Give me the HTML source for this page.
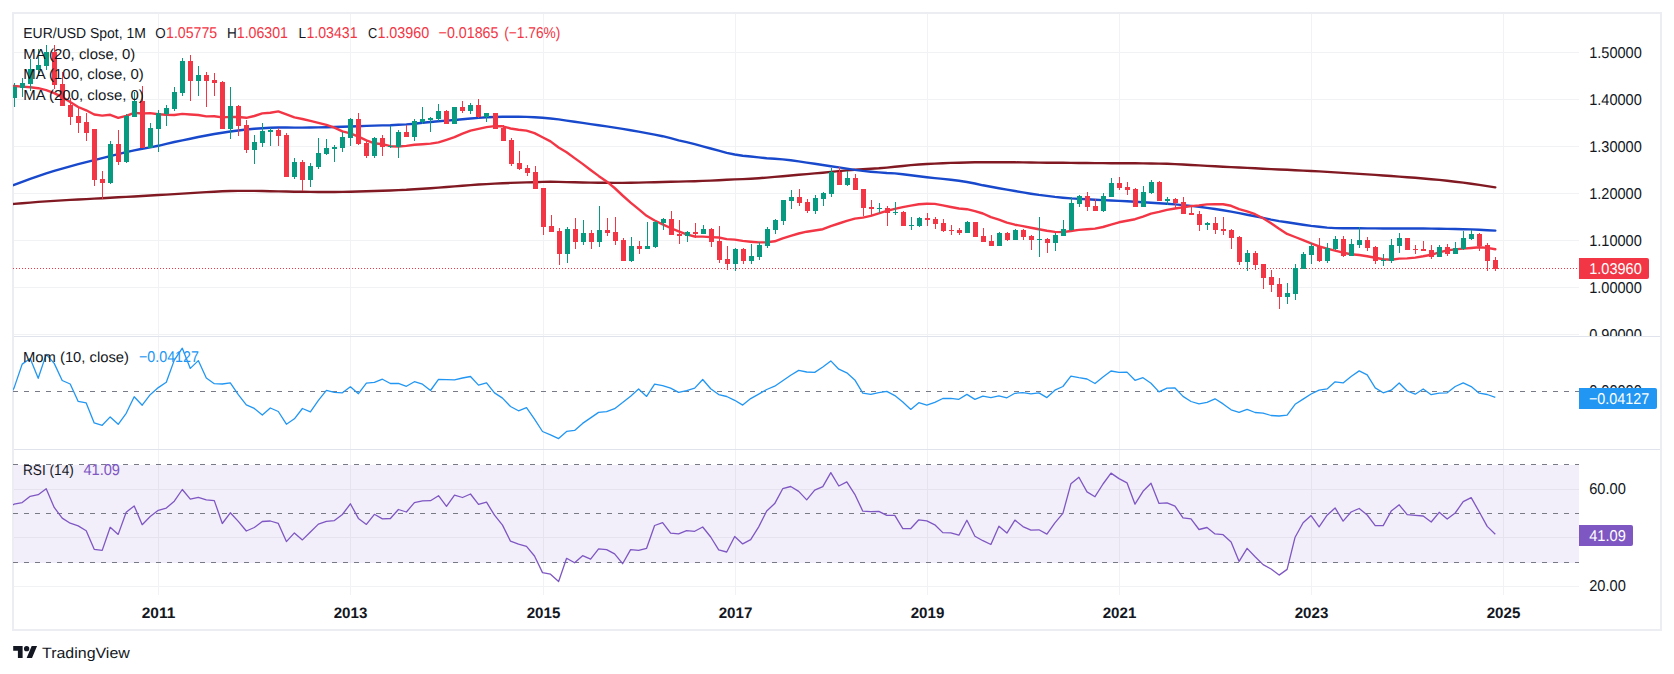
<!DOCTYPE html><html><head><meta charset="utf-8"><title>EUR/USD Spot 1M</title><style>html,body{margin:0;padding:0;background:#fff}body{width:1674px;height:674px;position:relative;overflow:hidden}</style></head><body><svg width="1674" height="674" viewBox="0 0 1674 674" text-rendering="geometricPrecision" style="position:absolute;left:0;top:0;font-family:'Liberation Sans', 'DejaVu Sans', sans-serif">
<defs><clipPath id="cp1"><rect x="13" y="13" width="1566" height="323"/></clipPath><clipPath id="cp2"><rect x="13" y="337" width="1566" height="112"/></clipPath><clipPath id="cp3"><rect x="13" y="450" width="1566" height="145"/></clipPath><clipPath id="cpa1"><rect x="1579" y="13" width="82" height="323"/></clipPath></defs>
<rect x="0" y="0" width="1674" height="674" fill="#fff"/>
<rect x="13" y="465" width="1566" height="98" fill="#f2eefa" shape-rendering="crispEdges"/>
<g fill="#f1f2f4" shape-rendering="crispEdges"><rect x="158" y="13" width="1" height="582"/><rect x="350" y="13" width="1" height="582"/><rect x="543" y="13" width="1" height="582"/><rect x="735" y="13" width="1" height="582"/><rect x="927" y="13" width="1" height="582"/><rect x="1119" y="13" width="1" height="582"/><rect x="1311" y="13" width="1" height="582"/><rect x="1503" y="13" width="1" height="582"/><rect x="13" y="52" width="1566" height="1"/><rect x="13" y="99" width="1566" height="1"/><rect x="13" y="146" width="1566" height="1"/><rect x="13" y="193" width="1566" height="1"/><rect x="13" y="240" width="1566" height="1"/><rect x="13" y="287" width="1566" height="1"/><rect x="13" y="334" width="1566" height="1"/><rect x="13" y="489" width="1566" height="1"/><rect x="13" y="537" width="1566" height="1"/><rect x="13" y="586" width="1566" height="1"/></g>
<g fill="#e6e3ef" shape-rendering="crispEdges"><rect x="13" y="489" width="1566" height="1"/><rect x="13" y="537" width="1566" height="1"/><rect x="158" y="465" width="1" height="98"/><rect x="350" y="465" width="1" height="98"/><rect x="543" y="465" width="1" height="98"/><rect x="735" y="465" width="1" height="98"/><rect x="927" y="465" width="1" height="98"/><rect x="1119" y="465" width="1" height="98"/><rect x="1311" y="465" width="1" height="98"/><rect x="1503" y="465" width="1" height="98"/></g>
<g fill="#e0e3eb" shape-rendering="crispEdges"><rect x="13" y="336" width="1648" height="1"/><rect x="13" y="449" width="1648" height="1"/></g>
<rect x="13" y="13" width="1648" height="617" fill="none" stroke="#ebedf3" stroke-width="2"/>
<line x1="13" y1="268.5" x2="1579" y2="268.5" stroke="#f23645" stroke-width="1" stroke-dasharray="1 2" shape-rendering="crispEdges"/>
<g clip-path="url(#cp1)" fill="none" stroke-width="2.4" stroke-linejoin="round" stroke-linecap="round">
<path d="M6.1,204.5 L14.1,203.9 L22.2,203.2 L30.2,202.6 L38.2,201.9 L46.2,201.4 L54.2,200.9 L62.2,200.4 L70.2,199.9 L78.2,199.5 L86.2,199.1 L94.2,198.6 L102.2,198.2 L110.2,197.8 L118.2,197.3 L126.2,196.9 L134.2,196.5 L142.2,196.0 L150.2,195.5 L158.3,195.0 L166.3,194.6 L174.3,194.1 L182.3,193.6 L190.3,193.1 L198.3,192.6 L206.3,192.1 L214.3,191.7 L222.3,191.3 L230.3,191.0 L238.3,190.9 L246.3,190.9 L254.3,190.9 L262.3,191.0 L270.3,191.2 L278.3,191.4 L286.4,191.5 L294.4,191.7 L302.4,191.8 L310.4,191.9 L318.4,192.0 L326.4,192.0 L334.4,192.0 L342.4,191.9 L350.4,191.7 L358.4,191.5 L366.4,191.3 L374.4,191.0 L382.4,190.8 L390.4,190.5 L398.4,190.1 L406.4,189.8 L414.4,189.3 L422.5,188.7 L430.5,188.2 L438.5,187.6 L446.5,187.0 L454.5,186.4 L462.5,185.7 L470.5,185.1 L478.5,184.5 L486.5,184.1 L494.5,183.6 L502.5,183.3 L510.5,182.9 L518.5,182.6 L526.5,182.4 L534.5,182.2 L542.5,181.9 L550.5,181.8 L558.6,181.9 L566.6,182.1 L574.6,182.3 L582.6,182.5 L590.6,182.6 L598.6,182.7 L606.6,182.8 L614.6,182.9 L622.6,182.9 L630.6,182.8 L638.6,182.6 L646.6,182.4 L654.6,182.2 L662.6,182.0 L670.6,181.8 L678.6,181.6 L686.6,181.4 L694.7,181.2 L702.7,180.9 L710.7,180.6 L718.7,180.2 L726.7,179.8 L734.7,179.4 L742.7,179.1 L750.7,178.7 L758.7,178.2 L766.7,177.6 L774.7,176.9 L782.7,176.2 L790.7,175.5 L798.7,174.8 L806.7,174.1 L814.7,173.4 L822.8,172.7 L830.8,171.9 L838.8,171.1 L846.8,170.4 L854.8,169.8 L862.8,169.2 L870.8,168.8 L878.8,168.3 L886.8,167.6 L894.8,166.8 L902.8,166.0 L910.8,165.1 L918.8,164.5 L926.8,164.0 L934.8,163.6 L942.8,163.3 L950.8,162.9 L958.9,162.7 L966.9,162.5 L974.9,162.3 L982.9,162.2 L990.9,162.2 L998.9,162.2 L1006.9,162.3 L1014.9,162.3 L1022.9,162.4 L1030.9,162.5 L1038.9,162.6 L1046.9,162.7 L1054.9,162.8 L1062.9,162.8 L1070.9,162.9 L1078.9,163.0 L1087.0,163.0 L1095.0,163.1 L1103.0,163.1 L1111.0,163.2 L1119.0,163.2 L1127.0,163.3 L1135.0,163.3 L1143.0,163.4 L1151.0,163.5 L1159.0,163.6 L1167.0,163.8 L1175.0,164.1 L1183.0,164.5 L1191.0,165.0 L1199.0,165.4 L1207.0,165.9 L1215.0,166.3 L1223.1,166.7 L1231.1,167.1 L1239.1,167.5 L1247.1,167.9 L1255.1,168.3 L1263.1,168.7 L1271.1,169.1 L1279.1,169.5 L1287.1,169.8 L1295.1,170.2 L1303.1,170.6 L1311.1,171.0 L1319.1,171.4 L1327.1,171.9 L1335.1,172.4 L1343.1,172.9 L1351.1,173.4 L1359.2,173.9 L1367.2,174.4 L1375.2,174.9 L1383.2,175.5 L1391.2,176.0 L1399.2,176.6 L1407.2,177.2 L1415.2,177.8 L1423.2,178.5 L1431.2,179.2 L1439.2,179.9 L1447.2,180.8 L1455.2,181.7 L1463.2,182.6 L1471.2,183.7 L1479.2,184.9 L1487.2,186.1 L1495.3,187.4" stroke="#801922"/>
<path d="M6.1,187.8 L14.1,184.9 L22.2,181.8 L30.2,178.9 L38.2,176.1 L46.2,173.4 L54.2,170.9 L62.2,168.6 L70.2,166.3 L78.2,164.2 L86.2,162.1 L94.2,160.1 L102.2,158.1 L110.2,156.1 L118.2,154.1 L126.2,152.2 L134.2,150.4 L142.2,148.8 L150.2,147.4 L158.3,145.8 L166.3,143.9 L174.3,142.0 L182.3,140.3 L190.3,138.7 L198.3,137.0 L206.3,135.5 L214.3,134.0 L222.3,132.7 L230.3,131.5 L238.3,130.5 L246.3,129.5 L254.3,128.8 L262.3,128.2 L270.3,127.8 L278.3,127.5 L286.4,127.5 L294.4,127.6 L302.4,127.6 L310.4,127.5 L318.4,127.4 L326.4,127.2 L334.4,127.0 L342.4,126.8 L350.4,126.5 L358.4,126.2 L366.4,125.9 L374.4,125.6 L382.4,125.4 L390.4,125.2 L398.4,124.8 L406.4,124.4 L414.4,123.7 L422.5,122.8 L430.5,122.0 L438.5,121.3 L446.5,120.6 L454.5,120.0 L462.5,119.3 L470.5,118.5 L478.5,117.9 L486.5,117.3 L494.5,117.0 L502.5,116.8 L510.5,116.7 L518.5,116.7 L526.5,116.9 L534.5,117.2 L542.5,117.7 L550.5,118.5 L558.6,119.4 L566.6,120.6 L574.6,121.7 L582.6,122.9 L590.6,124.1 L598.6,125.3 L606.6,126.4 L614.6,127.6 L622.6,128.9 L630.6,130.2 L638.6,131.6 L646.6,133.1 L654.6,134.6 L662.6,136.2 L670.6,138.2 L678.6,140.3 L686.6,142.2 L694.7,144.2 L702.7,146.3 L710.7,148.5 L718.7,150.7 L726.7,152.8 L734.7,154.5 L742.7,155.7 L750.7,156.5 L758.7,157.4 L766.7,158.2 L774.7,158.8 L782.7,159.4 L790.7,160.2 L798.7,161.4 L806.7,162.6 L814.7,163.8 L822.8,165.0 L830.8,166.2 L838.8,167.4 L846.8,168.6 L854.8,169.9 L862.8,170.9 L870.8,171.7 L878.8,172.4 L886.8,173.0 L894.8,173.4 L902.8,174.2 L910.8,175.2 L918.8,176.2 L926.8,177.2 L934.8,178.1 L942.8,178.9 L950.8,179.7 L958.9,180.8 L966.9,182.0 L974.9,183.5 L982.9,185.3 L990.9,186.8 L998.9,188.2 L1006.9,189.6 L1014.9,191.0 L1022.9,192.4 L1030.9,193.7 L1038.9,194.9 L1046.9,195.9 L1054.9,196.9 L1062.9,197.7 L1070.9,198.4 L1078.9,198.9 L1087.0,199.3 L1095.0,199.7 L1103.0,200.1 L1111.0,200.5 L1119.0,200.9 L1127.0,201.3 L1135.0,201.8 L1143.0,202.3 L1151.0,202.8 L1159.0,203.3 L1167.0,203.8 L1175.0,204.4 L1183.0,205.1 L1191.0,205.9 L1199.0,206.8 L1207.0,207.9 L1215.0,209.0 L1223.1,210.3 L1231.1,211.6 L1239.1,213.1 L1247.1,214.7 L1255.1,216.3 L1263.1,217.9 L1271.1,219.6 L1279.1,221.1 L1287.1,222.3 L1295.1,223.5 L1303.1,224.7 L1311.1,225.9 L1319.1,226.8 L1327.1,227.6 L1335.1,228.1 L1343.1,228.3 L1351.1,228.3 L1359.2,228.3 L1367.2,228.4 L1375.2,228.4 L1383.2,228.5 L1391.2,228.5 L1399.2,228.5 L1407.2,228.5 L1415.2,228.5 L1423.2,228.5 L1431.2,228.6 L1439.2,228.7 L1447.2,228.9 L1455.2,229.0 L1463.2,229.2 L1471.2,229.4 L1479.2,229.8 L1487.2,230.2 L1495.3,230.6" stroke="#1848cc"/>
<path d="M6.1,85.2 L14.1,86.0 L22.2,86.6 L30.2,87.2 L38.2,88.2 L46.2,90.1 L54.2,93.1 L62.2,97.1 L70.2,102.1 L78.2,107.0 L86.2,110.3 L94.2,114.5 L102.2,115.6 L110.2,114.8 L118.2,117.8 L126.2,115.9 L134.2,112.9 L142.2,113.5 L150.2,113.1 L158.3,114.2 L166.3,114.8 L174.3,115.0 L182.3,113.9 L190.3,114.5 L198.3,115.0 L206.3,116.4 L214.3,116.3 L222.3,117.4 L230.3,116.9 L238.3,117.0 L246.3,117.8 L254.3,116.0 L262.3,113.4 L270.3,112.8 L278.3,111.4 L286.4,114.4 L294.4,117.4 L302.4,119.0 L310.4,120.9 L318.4,122.9 L326.4,124.9 L334.4,127.6 L342.4,131.4 L350.4,133.3 L358.4,136.7 L366.4,140.4 L374.4,143.3 L382.4,144.2 L390.4,146.2 L398.4,146.5 L406.4,145.9 L414.4,144.8 L422.5,144.2 L430.5,143.6 L438.5,142.4 L446.5,139.8 L454.5,137.1 L462.5,133.7 L470.5,130.6 L478.5,128.8 L486.5,127.1 L494.5,126.1 L502.5,126.3 L510.5,128.5 L518.5,129.8 L526.5,130.6 L534.5,133.1 L542.5,137.2 L550.5,141.4 L558.6,147.5 L566.6,152.2 L574.6,158.1 L582.6,163.9 L590.6,170.0 L598.6,175.9 L606.6,181.4 L614.6,188.0 L622.6,195.5 L630.6,202.6 L638.6,209.1 L646.6,215.8 L654.6,220.5 L662.6,224.4 L670.6,228.0 L678.6,231.3 L686.6,234.3 L694.7,236.5 L702.7,236.6 L710.7,237.1 L718.7,237.5 L726.7,239.1 L734.7,239.6 L742.7,240.9 L750.7,241.7 L758.7,242.4 L766.7,242.3 L774.7,241.3 L782.7,238.3 L790.7,235.8 L798.7,233.5 L806.7,231.7 L814.7,230.5 L822.8,229.2 L830.8,226.1 L838.8,223.5 L846.8,220.8 L854.8,218.6 L862.8,217.6 L870.8,215.9 L878.8,213.3 L886.8,210.8 L894.8,208.9 L902.8,207.2 L910.8,205.6 L918.8,204.3 L926.8,203.8 L934.8,203.9 L942.8,205.4 L950.8,207.0 L958.9,208.5 L966.9,209.2 L974.9,211.1 L982.9,213.5 L990.9,217.2 L998.9,219.6 L1006.9,222.7 L1014.9,224.7 L1022.9,226.1 L1030.9,227.7 L1038.9,229.2 L1046.9,230.7 L1054.9,231.9 L1062.9,232.1 L1070.9,231.0 L1078.9,229.9 L1087.0,229.3 L1095.0,228.6 L1103.0,227.0 L1111.0,224.6 L1119.0,222.3 L1127.0,220.7 L1135.0,219.2 L1143.0,216.7 L1151.0,213.6 L1159.0,211.9 L1167.0,209.9 L1175.0,208.5 L1183.0,207.4 L1191.0,206.1 L1199.0,205.4 L1207.0,204.4 L1215.0,204.1 L1223.1,204.2 L1231.1,205.8 L1239.1,209.1 L1247.1,211.4 L1255.1,214.2 L1263.1,218.2 L1271.1,223.2 L1279.1,228.7 L1287.1,233.9 L1295.1,237.0 L1303.1,240.1 L1311.1,243.3 L1319.1,246.3 L1327.1,248.7 L1335.1,250.6 L1343.1,252.7 L1351.1,254.2 L1359.2,255.0 L1367.2,256.2 L1375.2,257.8 L1383.2,259.3 L1391.2,259.7 L1399.2,258.6 L1407.2,258.4 L1415.2,257.6 L1423.2,256.3 L1431.2,254.8 L1439.2,252.4 L1447.2,250.4 L1455.2,249.4 L1463.2,248.6 L1471.2,248.0 L1479.2,247.3 L1487.2,247.9 L1495.3,249.3" stroke="#f23645"/>
</g>
<g clip-path="url(#cp1)" shape-rendering="crispEdges"><g fill="#089981"><rect x="14" y="83" width="1" height="24"/><rect x="12" y="87" width="5" height="11"/><rect x="22" y="78" width="1" height="19"/><rect x="20" y="83" width="5" height="5"/><rect x="30" y="59" width="1" height="32"/><rect x="28" y="69" width="5" height="15"/><rect x="38" y="49" width="1" height="27"/><rect x="36" y="65" width="5" height="5"/><rect x="46" y="45" width="1" height="25"/><rect x="44" y="52" width="5" height="14"/><rect x="110" y="141" width="1" height="43"/><rect x="108" y="144" width="5" height="39"/><rect x="126" y="114" width="1" height="49"/><rect x="124" y="116" width="5" height="46"/><rect x="134" y="92" width="1" height="24"/><rect x="132" y="101" width="5" height="16"/><rect x="150" y="123" width="1" height="24"/><rect x="148" y="128" width="5" height="20"/><rect x="158" y="110" width="1" height="42"/><rect x="156" y="113" width="5" height="16"/><rect x="166" y="105" width="1" height="21"/><rect x="164" y="108" width="5" height="6"/><rect x="174" y="87" width="1" height="24"/><rect x="172" y="92" width="5" height="17"/><rect x="182" y="58" width="1" height="38"/><rect x="180" y="61" width="5" height="32"/><rect x="198" y="66" width="1" height="30"/><rect x="196" y="75" width="5" height="6"/><rect x="230" y="87" width="1" height="52"/><rect x="228" y="106" width="5" height="23"/><rect x="254" y="135" width="1" height="29"/><rect x="252" y="142" width="5" height="8"/><rect x="262" y="123" width="1" height="24"/><rect x="260" y="131" width="5" height="12"/><rect x="270" y="128" width="1" height="18"/><rect x="268" y="130" width="5" height="2"/><rect x="294" y="158" width="1" height="21"/><rect x="292" y="162" width="5" height="15"/><rect x="310" y="163" width="1" height="24"/><rect x="308" y="166" width="5" height="14"/><rect x="318" y="138" width="1" height="31"/><rect x="316" y="153" width="5" height="14"/><rect x="326" y="139" width="1" height="16"/><rect x="324" y="148" width="5" height="6"/><rect x="334" y="145" width="1" height="17"/><rect x="332" y="147" width="5" height="2"/><rect x="342" y="132" width="1" height="20"/><rect x="340" y="137" width="5" height="11"/><rect x="350" y="118" width="1" height="28"/><rect x="348" y="119" width="5" height="19"/><rect x="374" y="137" width="1" height="21"/><rect x="372" y="138" width="5" height="18"/><rect x="390" y="126" width="1" height="22"/><rect x="388" y="146" width="5" height="1"/><rect x="398" y="130" width="1" height="28"/><rect x="396" y="132" width="5" height="15"/><rect x="414" y="119" width="1" height="22"/><rect x="412" y="121" width="5" height="16"/><rect x="422" y="107" width="1" height="17"/><rect x="420" y="119" width="5" height="3"/><rect x="430" y="117" width="1" height="15"/><rect x="428" y="118" width="5" height="2"/><rect x="438" y="104" width="1" height="17"/><rect x="436" y="111" width="5" height="8"/><rect x="454" y="107" width="1" height="17"/><rect x="452" y="107" width="5" height="17"/><rect x="470" y="103" width="1" height="11"/><rect x="468" y="105" width="5" height="6"/><rect x="486" y="113" width="1" height="9"/><rect x="484" y="113" width="5" height="4"/><rect x="567" y="227" width="1" height="36"/><rect x="565" y="229" width="5" height="25"/><rect x="583" y="220" width="1" height="25"/><rect x="581" y="233" width="5" height="9"/><rect x="599" y="206" width="1" height="41"/><rect x="597" y="230" width="5" height="12"/><rect x="631" y="237" width="1" height="25"/><rect x="629" y="246" width="5" height="15"/><rect x="647" y="222" width="1" height="27"/><rect x="645" y="246" width="5" height="3"/><rect x="655" y="221" width="1" height="27"/><rect x="653" y="222" width="5" height="25"/><rect x="663" y="218" width="1" height="12"/><rect x="661" y="219" width="5" height="4"/><rect x="687" y="231" width="1" height="11"/><rect x="685" y="232" width="5" height="4"/><rect x="703" y="225" width="1" height="9"/><rect x="701" y="229" width="5" height="5"/><rect x="735" y="248" width="1" height="23"/><rect x="733" y="249" width="5" height="15"/><rect x="751" y="244" width="1" height="20"/><rect x="749" y="256" width="5" height="5"/><rect x="759" y="242" width="1" height="18"/><rect x="757" y="245" width="5" height="12"/><rect x="767" y="227" width="1" height="21"/><rect x="765" y="229" width="5" height="17"/><rect x="775" y="219" width="1" height="15"/><rect x="773" y="220" width="5" height="10"/><rect x="783" y="200" width="1" height="25"/><rect x="781" y="200" width="5" height="21"/><rect x="791" y="190" width="1" height="19"/><rect x="789" y="197" width="5" height="4"/><rect x="815" y="195" width="1" height="19"/><rect x="813" y="198" width="5" height="13"/><rect x="823" y="192" width="1" height="14"/><rect x="821" y="193" width="5" height="6"/><rect x="831" y="168" width="1" height="29"/><rect x="829" y="172" width="5" height="22"/><rect x="847" y="171" width="1" height="15"/><rect x="845" y="178" width="5" height="7"/><rect x="879" y="203" width="1" height="10"/><rect x="877" y="208" width="5" height="1"/><rect x="895" y="202" width="1" height="13"/><rect x="893" y="212" width="5" height="1"/><rect x="911" y="217" width="1" height="13"/><rect x="909" y="225" width="5" height="1"/><rect x="919" y="217" width="1" height="10"/><rect x="917" y="218" width="5" height="8"/><rect x="967" y="221" width="1" height="11"/><rect x="965" y="222" width="5" height="11"/><rect x="999" y="232" width="1" height="14"/><rect x="997" y="233" width="5" height="13"/><rect x="1015" y="229" width="1" height="11"/><rect x="1013" y="230" width="5" height="10"/><rect x="1039" y="217" width="1" height="40"/><rect x="1037" y="239" width="5" height="1"/><rect x="1055" y="233" width="1" height="18"/><rect x="1053" y="235" width="5" height="8"/><rect x="1063" y="220" width="1" height="15"/><rect x="1061" y="229" width="5" height="7"/><rect x="1071" y="197" width="1" height="34"/><rect x="1069" y="203" width="5" height="27"/><rect x="1079" y="195" width="1" height="12"/><rect x="1077" y="196" width="5" height="8"/><rect x="1103" y="193" width="1" height="19"/><rect x="1101" y="196" width="5" height="15"/><rect x="1111" y="178" width="1" height="19"/><rect x="1109" y="183" width="5" height="14"/><rect x="1143" y="186" width="1" height="20"/><rect x="1141" y="192" width="5" height="15"/><rect x="1151" y="180" width="1" height="14"/><rect x="1149" y="182" width="5" height="11"/><rect x="1167" y="197" width="1" height="8"/><rect x="1165" y="199" width="5" height="2"/><rect x="1207" y="222" width="1" height="8"/><rect x="1205" y="223" width="5" height="2"/><rect x="1247" y="250" width="1" height="21"/><rect x="1245" y="253" width="5" height="9"/><rect x="1287" y="283" width="1" height="21"/><rect x="1285" y="293" width="5" height="4"/><rect x="1295" y="264" width="1" height="36"/><rect x="1293" y="268" width="5" height="26"/><rect x="1303" y="252" width="1" height="17"/><rect x="1301" y="254" width="5" height="15"/><rect x="1311" y="243" width="1" height="21"/><rect x="1309" y="246" width="5" height="9"/><rect x="1327" y="243" width="1" height="20"/><rect x="1325" y="248" width="5" height="13"/><rect x="1335" y="236" width="1" height="14"/><rect x="1333" y="239" width="5" height="10"/><rect x="1351" y="239" width="1" height="17"/><rect x="1349" y="244" width="5" height="12"/><rect x="1359" y="227" width="1" height="21"/><rect x="1357" y="240" width="5" height="5"/><rect x="1383" y="254" width="1" height="12"/><rect x="1381" y="260" width="5" height="1"/><rect x="1391" y="239" width="1" height="24"/><rect x="1389" y="245" width="5" height="16"/><rect x="1399" y="233" width="1" height="20"/><rect x="1397" y="238" width="5" height="8"/><rect x="1439" y="245" width="1" height="11"/><rect x="1437" y="247" width="5" height="10"/><rect x="1455" y="242" width="1" height="12"/><rect x="1453" y="248" width="5" height="6"/><rect x="1463" y="231" width="1" height="19"/><rect x="1461" y="238" width="5" height="11"/><rect x="1471" y="230" width="1" height="10"/><rect x="1469" y="234" width="5" height="5"/></g><g fill="#f23645"><rect x="54" y="45" width="1" height="44"/><rect x="52" y="52" width="5" height="33"/><rect x="62" y="72" width="1" height="34"/><rect x="60" y="84" width="5" height="22"/><rect x="70" y="98" width="1" height="27"/><rect x="68" y="105" width="5" height="12"/><rect x="78" y="108" width="1" height="25"/><rect x="76" y="116" width="5" height="7"/><rect x="86" y="113" width="1" height="28"/><rect x="84" y="122" width="5" height="11"/><rect x="94" y="129" width="1" height="57"/><rect x="92" y="129" width="5" height="51"/><rect x="102" y="171" width="1" height="28"/><rect x="100" y="179" width="5" height="4"/><rect x="118" y="130" width="1" height="35"/><rect x="116" y="144" width="5" height="18"/><rect x="142" y="86" width="1" height="61"/><rect x="140" y="101" width="5" height="47"/><rect x="190" y="55" width="1" height="46"/><rect x="188" y="61" width="5" height="20"/><rect x="206" y="72" width="1" height="35"/><rect x="204" y="75" width="5" height="6"/><rect x="214" y="73" width="1" height="23"/><rect x="212" y="80" width="5" height="3"/><rect x="222" y="81" width="1" height="48"/><rect x="220" y="82" width="5" height="47"/><rect x="238" y="105" width="1" height="31"/><rect x="236" y="106" width="5" height="20"/><rect x="246" y="120" width="1" height="33"/><rect x="244" y="125" width="5" height="25"/><rect x="278" y="128" width="1" height="18"/><rect x="276" y="130" width="5" height="6"/><rect x="286" y="133" width="1" height="44"/><rect x="284" y="135" width="5" height="42"/><rect x="302" y="160" width="1" height="31"/><rect x="300" y="162" width="5" height="18"/><rect x="358" y="113" width="1" height="32"/><rect x="356" y="119" width="5" height="25"/><rect x="366" y="140" width="1" height="18"/><rect x="364" y="143" width="5" height="13"/><rect x="382" y="135" width="1" height="21"/><rect x="380" y="138" width="5" height="9"/><rect x="406" y="125" width="1" height="12"/><rect x="404" y="132" width="5" height="5"/><rect x="446" y="110" width="1" height="14"/><rect x="444" y="111" width="5" height="13"/><rect x="462" y="101" width="1" height="12"/><rect x="460" y="107" width="5" height="4"/><rect x="478" y="99" width="1" height="19"/><rect x="476" y="105" width="5" height="12"/><rect x="495" y="113" width="1" height="16"/><rect x="493" y="113" width="5" height="16"/><rect x="503" y="125" width="1" height="15"/><rect x="501" y="128" width="5" height="13"/><rect x="511" y="138" width="1" height="28"/><rect x="509" y="140" width="5" height="24"/><rect x="519" y="151" width="1" height="19"/><rect x="517" y="163" width="5" height="6"/><rect x="527" y="165" width="1" height="11"/><rect x="525" y="168" width="5" height="5"/><rect x="535" y="166" width="1" height="22"/><rect x="533" y="172" width="5" height="17"/><rect x="543" y="188" width="1" height="47"/><rect x="541" y="188" width="5" height="39"/><rect x="551" y="215" width="1" height="17"/><rect x="549" y="226" width="5" height="6"/><rect x="559" y="228" width="1" height="37"/><rect x="557" y="231" width="5" height="23"/><rect x="575" y="218" width="1" height="31"/><rect x="573" y="229" width="5" height="13"/><rect x="591" y="230" width="1" height="19"/><rect x="589" y="233" width="5" height="9"/><rect x="607" y="218" width="1" height="18"/><rect x="605" y="230" width="5" height="3"/><rect x="615" y="217" width="1" height="28"/><rect x="613" y="232" width="5" height="9"/><rect x="623" y="238" width="1" height="23"/><rect x="621" y="240" width="5" height="21"/><rect x="639" y="241" width="1" height="13"/><rect x="637" y="246" width="5" height="3"/><rect x="671" y="211" width="1" height="24"/><rect x="669" y="219" width="5" height="16"/><rect x="679" y="220" width="1" height="24"/><rect x="677" y="234" width="5" height="2"/><rect x="695" y="223" width="1" height="15"/><rect x="693" y="232" width="5" height="2"/><rect x="711" y="228" width="1" height="19"/><rect x="709" y="229" width="5" height="13"/><rect x="719" y="226" width="1" height="37"/><rect x="717" y="241" width="5" height="19"/><rect x="727" y="246" width="1" height="24"/><rect x="725" y="259" width="5" height="5"/><rect x="743" y="248" width="1" height="16"/><rect x="741" y="249" width="5" height="12"/><rect x="799" y="189" width="1" height="17"/><rect x="797" y="197" width="5" height="6"/><rect x="807" y="199" width="1" height="14"/><rect x="805" y="202" width="5" height="9"/><rect x="839" y="167" width="1" height="17"/><rect x="837" y="172" width="5" height="13"/><rect x="855" y="174" width="1" height="16"/><rect x="853" y="178" width="5" height="12"/><rect x="863" y="189" width="1" height="27"/><rect x="861" y="189" width="5" height="19"/><rect x="871" y="200" width="1" height="16"/><rect x="869" y="207" width="5" height="2"/><rect x="887" y="206" width="1" height="20"/><rect x="885" y="208" width="5" height="5"/><rect x="903" y="211" width="1" height="15"/><rect x="901" y="212" width="5" height="14"/><rect x="927" y="213" width="1" height="13"/><rect x="925" y="218" width="5" height="2"/><rect x="935" y="217" width="1" height="12"/><rect x="933" y="219" width="5" height="5"/><rect x="943" y="219" width="1" height="13"/><rect x="941" y="223" width="5" height="8"/><rect x="951" y="225" width="1" height="10"/><rect x="949" y="230" width="5" height="1"/><rect x="959" y="228" width="1" height="7"/><rect x="957" y="230" width="5" height="3"/><rect x="975" y="222" width="1" height="15"/><rect x="973" y="222" width="5" height="15"/><rect x="983" y="228" width="1" height="14"/><rect x="981" y="236" width="5" height="6"/><rect x="991" y="235" width="1" height="11"/><rect x="989" y="241" width="5" height="5"/><rect x="1007" y="232" width="1" height="9"/><rect x="1005" y="233" width="5" height="7"/><rect x="1023" y="229" width="1" height="11"/><rect x="1021" y="230" width="5" height="7"/><rect x="1031" y="235" width="1" height="15"/><rect x="1029" y="236" width="5" height="4"/><rect x="1047" y="238" width="1" height="15"/><rect x="1045" y="239" width="5" height="4"/><rect x="1087" y="192" width="1" height="19"/><rect x="1085" y="196" width="5" height="11"/><rect x="1095" y="199" width="1" height="11"/><rect x="1093" y="206" width="5" height="5"/><rect x="1119" y="177" width="1" height="13"/><rect x="1117" y="183" width="5" height="5"/><rect x="1127" y="182" width="1" height="13"/><rect x="1125" y="187" width="5" height="3"/><rect x="1135" y="188" width="1" height="19"/><rect x="1133" y="189" width="5" height="18"/><rect x="1159" y="181" width="1" height="19"/><rect x="1157" y="182" width="5" height="19"/><rect x="1175" y="198" width="1" height="11"/><rect x="1173" y="199" width="5" height="4"/><rect x="1183" y="197" width="1" height="17"/><rect x="1181" y="202" width="5" height="12"/><rect x="1191" y="207" width="1" height="8"/><rect x="1189" y="213" width="5" height="2"/><rect x="1199" y="211" width="1" height="20"/><rect x="1197" y="214" width="5" height="11"/><rect x="1215" y="217" width="1" height="17"/><rect x="1213" y="223" width="5" height="7"/><rect x="1223" y="217" width="1" height="18"/><rect x="1221" y="229" width="5" height="2"/><rect x="1231" y="229" width="1" height="20"/><rect x="1229" y="230" width="5" height="8"/><rect x="1239" y="236" width="1" height="29"/><rect x="1237" y="237" width="5" height="25"/><rect x="1255" y="251" width="1" height="19"/><rect x="1253" y="253" width="5" height="12"/><rect x="1263" y="264" width="1" height="25"/><rect x="1261" y="264" width="5" height="14"/><rect x="1271" y="270" width="1" height="22"/><rect x="1269" y="277" width="5" height="8"/><rect x="1279" y="278" width="1" height="31"/><rect x="1277" y="284" width="5" height="13"/><rect x="1319" y="238" width="1" height="24"/><rect x="1317" y="246" width="5" height="15"/><rect x="1343" y="236" width="1" height="21"/><rect x="1341" y="239" width="5" height="17"/><rect x="1367" y="237" width="1" height="14"/><rect x="1365" y="240" width="5" height="8"/><rect x="1375" y="246" width="1" height="18"/><rect x="1373" y="247" width="5" height="14"/><rect x="1407" y="238" width="1" height="12"/><rect x="1405" y="238" width="5" height="12"/><rect x="1415" y="245" width="1" height="9"/><rect x="1413" y="249" width="5" height="1"/><rect x="1423" y="241" width="1" height="10"/><rect x="1421" y="249" width="5" height="2"/><rect x="1431" y="245" width="1" height="14"/><rect x="1429" y="250" width="5" height="7"/><rect x="1447" y="244" width="1" height="12"/><rect x="1445" y="247" width="5" height="7"/><rect x="1479" y="233" width="1" height="18"/><rect x="1477" y="234" width="5" height="12"/><rect x="1487" y="243" width="1" height="28"/><rect x="1485" y="245" width="5" height="16"/><rect x="1495" y="257" width="1" height="14"/><rect x="1493" y="260" width="5" height="9"/></g></g>
<line x1="13" y1="391.5" x2="1579" y2="391.5" stroke="#787b86" stroke-width="1" stroke-dasharray="5 6" stroke-dashoffset="0" shape-rendering="crispEdges"/>
<path clip-path="url(#cp2)" d="M6.1,401.2 L14.1,387.9 L22.2,364.1 L30.2,358.5 L38.2,378.3 L46.2,354.4 L54.2,363.4 L62.2,380.5 L70.2,384.0 L78.2,401.4 L86.2,402.9 L94.2,422.9 L102.2,425.3 L110.2,416.9 L118.2,424.3 L126.2,413.3 L134.2,396.8 L142.2,405.2 L150.2,394.7 L158.3,387.6 L166.3,382.2 L174.3,360.1 L182.3,348.2 L190.3,368.4 L198.3,360.6 L206.3,378.0 L214.3,383.7 L222.3,384.0 L230.3,382.8 L238.3,394.7 L246.3,404.9 L254.3,408.4 L262.3,415.1 L270.3,408.0 L278.3,411.5 L286.4,424.2 L294.4,418.8 L302.4,408.5 L310.4,411.8 L318.4,400.3 L326.4,390.4 L334.4,392.3 L342.4,392.8 L350.4,386.8 L358.4,393.7 L366.4,383.1 L374.4,382.4 L382.4,379.2 L390.4,383.5 L398.4,383.3 L406.4,386.3 L414.4,381.7 L422.5,384.2 L430.5,390.5 L438.5,379.3 L446.5,379.6 L454.5,379.9 L462.5,378.0 L470.5,376.5 L478.5,385.1 L486.5,382.9 L494.5,392.9 L502.5,398.1 L510.5,406.5 L518.5,410.8 L526.5,407.7 L534.5,419.1 L542.5,431.5 L550.5,434.8 L558.6,438.6 L566.6,431.4 L574.6,430.4 L582.6,423.4 L590.6,417.9 L598.6,412.4 L606.6,411.7 L614.6,408.7 L622.6,402.6 L630.6,396.2 L638.6,389.0 L646.6,396.4 L654.6,384.1 L662.6,385.6 L670.6,388.2 L678.6,392.4 L686.6,390.7 L694.7,388.1 L702.7,379.5 L710.7,388.7 L718.7,394.6 L726.7,396.5 L734.7,400.3 L742.7,405.1 L750.7,398.6 L758.7,394.1 L766.7,389.5 L774.7,386.2 L782.7,380.7 L790.7,375.3 L798.7,370.4 L806.7,372.0 L814.7,372.4 L822.8,367.0 L830.8,360.9 L838.8,369.2 L846.8,372.8 L854.8,379.9 L862.8,393.1 L870.8,394.4 L878.8,392.7 L886.8,391.4 L894.8,395.6 L902.8,402.1 L910.8,409.4 L918.8,402.7 L926.8,405.1 L934.8,402.3 L942.8,398.5 L950.8,398.4 L958.9,399.3 L966.9,394.4 L974.9,399.4 L982.9,396.1 L990.9,397.6 L998.9,395.9 L1006.9,397.8 L1014.9,393.3 L1022.9,392.7 L1030.9,393.8 L1038.9,392.9 L1046.9,397.6 L1054.9,390.2 L1062.9,386.5 L1070.9,376.1 L1078.9,377.7 L1087.0,379.0 L1095.0,383.5 L1103.0,376.9 L1111.0,371.0 L1119.0,372.4 L1127.0,372.1 L1135.0,380.3 L1143.0,377.7 L1151.0,383.2 L1159.0,391.9 L1167.0,388.2 L1175.0,388.0 L1183.0,396.4 L1191.0,401.5 L1199.0,403.8 L1207.0,402.3 L1215.0,398.8 L1223.1,403.9 L1231.1,409.8 L1239.1,412.3 L1247.1,409.4 L1255.1,412.5 L1263.1,413.1 L1271.1,415.5 L1279.1,416.0 L1287.1,415.2 L1295.1,404.3 L1303.1,399.1 L1311.1,394.0 L1319.1,390.1 L1327.1,388.9 L1335.1,381.8 L1343.1,382.9 L1351.1,376.5 L1359.2,370.9 L1367.2,374.8 L1375.2,387.9 L1383.2,392.8 L1391.2,390.2 L1399.2,383.0 L1407.2,391.0 L1415.2,394.2 L1423.2,389.0 L1431.2,394.7 L1439.2,393.1 L1447.2,392.8 L1455.2,386.5 L1463.2,382.8 L1471.2,386.6 L1479.2,393.2 L1487.2,394.5 L1495.3,397.4" fill="none" stroke="#2196f3" stroke-width="1.3" stroke-linejoin="round"/>
<line x1="13" y1="464.5" x2="1579" y2="464.5" stroke="#787b86" stroke-width="1" stroke-dasharray="5 6" stroke-dashoffset="0" shape-rendering="crispEdges"/>
<line x1="13" y1="513.5" x2="1579" y2="513.5" stroke="#787b86" stroke-width="1" stroke-dasharray="5 6" stroke-dashoffset="0" shape-rendering="crispEdges"/>
<line x1="13" y1="562.5" x2="1579" y2="562.5" stroke="#787b86" stroke-width="1" stroke-dasharray="5 6" stroke-dashoffset="0" shape-rendering="crispEdges"/>
<path clip-path="url(#cp3)" d="M6.1,508.7 L14.1,504.2 L22.2,502.6 L30.2,496.3 L38.2,494.7 L46.2,488.7 L54.2,507.4 L62.2,518.1 L70.2,523.2 L78.2,525.9 L86.2,530.7 L94.2,549.3 L102.2,550.4 L110.2,527.3 L118.2,534.4 L126.2,512.2 L134.2,505.9 L142.2,524.7 L150.2,516.5 L158.3,510.3 L166.3,508.1 L174.3,501.2 L182.3,489.5 L190.3,499.2 L198.3,497.3 L206.3,499.9 L214.3,500.6 L222.3,523.5 L230.3,512.8 L238.3,521.4 L246.3,531.0 L254.3,527.5 L262.3,521.5 L270.3,521.0 L278.3,523.4 L286.4,541.6 L294.4,532.9 L302.4,539.9 L310.4,532.0 L318.4,524.1 L326.4,521.4 L334.4,520.6 L342.4,514.5 L350.4,503.8 L358.4,518.4 L366.4,524.4 L374.4,514.3 L382.4,518.9 L390.4,518.5 L398.4,509.5 L406.4,512.0 L414.4,502.6 L422.5,500.9 L430.5,500.7 L438.5,495.7 L446.5,506.3 L454.5,495.2 L462.5,497.5 L470.5,494.0 L478.5,504.4 L486.5,502.2 L494.5,515.2 L502.5,525.1 L510.5,541.2 L518.5,544.2 L526.5,546.4 L534.5,556.0 L542.5,572.6 L550.5,574.2 L558.6,581.5 L566.6,558.3 L574.6,562.8 L582.6,555.7 L590.6,559.1 L598.6,548.8 L606.6,549.6 L614.6,553.9 L622.6,563.7 L630.6,549.6 L638.6,550.4 L646.6,548.3 L654.6,525.5 L662.6,522.6 L670.6,533.1 L678.6,533.9 L686.6,530.7 L694.7,531.3 L702.7,527.0 L710.7,537.0 L718.7,549.9 L726.7,552.0 L734.7,536.5 L742.7,543.9 L750.7,539.7 L758.7,526.9 L766.7,511.0 L774.7,503.6 L782.7,488.7 L790.7,486.5 L798.7,491.4 L806.7,499.9 L814.7,490.2 L822.8,486.6 L830.8,472.6 L838.8,486.0 L846.8,481.9 L854.8,494.3 L862.8,511.2 L870.8,511.6 L878.8,511.3 L886.8,515.4 L894.8,515.3 L902.8,528.7 L910.8,528.5 L918.8,519.8 L926.8,520.8 L934.8,524.8 L942.8,532.6 L950.8,532.8 L958.9,535.2 L966.9,520.3 L974.9,536.2 L982.9,540.7 L990.9,544.5 L998.9,526.2 L1006.9,533.1 L1014.9,520.1 L1022.9,526.6 L1030.9,530.2 L1038.9,529.8 L1046.9,534.1 L1054.9,522.8 L1062.9,513.3 L1070.9,483.8 L1078.9,477.3 L1087.0,491.9 L1095.0,496.7 L1103.0,484.0 L1111.0,473.1 L1119.0,478.6 L1127.0,482.8 L1135.0,504.2 L1143.0,491.3 L1151.0,483.3 L1159.0,503.4 L1167.0,502.9 L1175.0,506.2 L1183.0,517.8 L1191.0,518.8 L1199.0,529.5 L1207.0,527.5 L1215.0,533.9 L1223.1,534.7 L1231.1,541.9 L1239.1,561.4 L1247.1,548.4 L1255.1,556.8 L1263.1,564.6 L1271.1,569.0 L1279.1,575.1 L1287.1,569.4 L1295.1,537.2 L1303.1,522.7 L1311.1,515.6 L1319.1,526.9 L1327.1,515.2 L1335.1,507.9 L1343.1,521.1 L1351.1,512.0 L1359.2,508.5 L1367.2,515.0 L1375.2,525.7 L1383.2,525.6 L1391.2,511.1 L1399.2,504.8 L1407.2,514.7 L1415.2,515.3 L1423.2,516.0 L1431.2,522.0 L1439.2,512.3 L1447.2,519.1 L1455.2,513.0 L1463.2,501.7 L1471.2,497.6 L1479.2,511.8 L1487.2,526.4 L1495.3,534.3" fill="none" stroke="#7e57c2" stroke-width="1.3" stroke-linejoin="round"/>
<g clip-path="url(#cpa1)">
<text x="1589.2" y="57.9" fill="#131722" font-size="15.6" textLength="52.6" lengthAdjust="spacingAndGlyphs">1.50000</text>
<text x="1589.2" y="104.9" fill="#131722" font-size="15.6" textLength="52.6" lengthAdjust="spacingAndGlyphs">1.40000</text>
<text x="1589.2" y="151.9" fill="#131722" font-size="15.6" textLength="52.6" lengthAdjust="spacingAndGlyphs">1.30000</text>
<text x="1589.2" y="198.9" fill="#131722" font-size="15.6" textLength="52.6" lengthAdjust="spacingAndGlyphs">1.20000</text>
<text x="1589.2" y="245.9" fill="#131722" font-size="15.6" textLength="52.6" lengthAdjust="spacingAndGlyphs">1.10000</text>
<text x="1589.2" y="292.9" fill="#131722" font-size="15.6" textLength="52.6" lengthAdjust="spacingAndGlyphs">1.00000</text>
<text x="1589.2" y="339.9" fill="#131722" font-size="15.6" textLength="52.6" lengthAdjust="spacingAndGlyphs">0.90000</text>
</g>
<text x="1589.2" y="396.0" fill="#131722" font-size="15.6" textLength="52.6" lengthAdjust="spacingAndGlyphs">0.00000</text>
<text x="1589.2" y="494.0" fill="#131722" font-size="15.6" textLength="36.6" lengthAdjust="spacingAndGlyphs">60.00</text>
<text x="1589.2" y="591.0" fill="#131722" font-size="15.6" textLength="36.6" lengthAdjust="spacingAndGlyphs">20.00</text>
<path d="M1579,258 h68 a2,2 0 0 1 2,2 v17 a2,2 0 0 1 -2,2 h-68 z" fill="#f23645"/>
<text x="1589.2" y="273.9" fill="#fff" font-size="15.6" textLength="52.6" lengthAdjust="spacingAndGlyphs">1.03960</text>
<path d="M1579,388 h76 a2,2 0 0 1 2,2 v17 a2,2 0 0 1 -2,2 h-76 z" fill="#2196f3"/>
<text x="1589" y="403.9" fill="#fff" font-size="15.6" textLength="60.2" lengthAdjust="spacingAndGlyphs">−0.04127</text>
<path d="M1579,525 h52 a2,2 0 0 1 2,2 v17 a2,2 0 0 1 -2,2 h-52 z" fill="#7e57c2"/>
<text x="1589.2" y="540.9" fill="#fff" font-size="15.6" textLength="36.6" lengthAdjust="spacingAndGlyphs">41.09</text>
<text x="141.7" y="617.9" fill="#131722" font-size="15.1" font-weight="bold" textLength="33.6" lengthAdjust="spacingAndGlyphs">2011</text>
<text x="333.7" y="617.9" fill="#131722" font-size="15.1" font-weight="bold" textLength="33.6" lengthAdjust="spacingAndGlyphs">2013</text>
<text x="526.7" y="617.9" fill="#131722" font-size="15.1" font-weight="bold" textLength="33.6" lengthAdjust="spacingAndGlyphs">2015</text>
<text x="718.7" y="617.9" fill="#131722" font-size="15.1" font-weight="bold" textLength="33.6" lengthAdjust="spacingAndGlyphs">2017</text>
<text x="910.7" y="617.9" fill="#131722" font-size="15.1" font-weight="bold" textLength="33.6" lengthAdjust="spacingAndGlyphs">2019</text>
<text x="1102.7" y="617.9" fill="#131722" font-size="15.1" font-weight="bold" textLength="33.6" lengthAdjust="spacingAndGlyphs">2021</text>
<text x="1294.7" y="617.9" fill="#131722" font-size="15.1" font-weight="bold" textLength="33.6" lengthAdjust="spacingAndGlyphs">2023</text>
<text x="1486.7" y="617.9" fill="#131722" font-size="15.1" font-weight="bold" textLength="33.6" lengthAdjust="spacingAndGlyphs">2025</text>
<text x="23.3" y="37.8" fill="#131722" font-size="14.5" textLength="122.6" lengthAdjust="spacingAndGlyphs">EUR/USD Spot, 1M</text>
<text x="155.3" y="37.8" fill="#131722" font-size="14.5" textLength="10.4" lengthAdjust="spacingAndGlyphs">O</text>
<text x="166.0" y="37.8" fill="#f23645" font-size="15.6" textLength="51.2" lengthAdjust="spacingAndGlyphs">1.05775</text>
<text x="227.0" y="37.8" fill="#131722" font-size="14.5" textLength="9.8" lengthAdjust="spacingAndGlyphs">H</text>
<text x="236.8" y="37.8" fill="#f23645" font-size="15.6" textLength="51.2" lengthAdjust="spacingAndGlyphs">1.06301</text>
<text x="298.6" y="37.8" fill="#131722" font-size="14.5" textLength="7.6" lengthAdjust="spacingAndGlyphs">L</text>
<text x="306.4" y="37.8" fill="#f23645" font-size="15.6" textLength="51.2" lengthAdjust="spacingAndGlyphs">1.03431</text>
<text x="368.0" y="37.8" fill="#131722" font-size="14.5" textLength="9.2" lengthAdjust="spacingAndGlyphs">C</text>
<text x="377.4" y="37.8" fill="#f23645" font-size="15.6" textLength="51.9" lengthAdjust="spacingAndGlyphs">1.03960</text>
<text x="438.6" y="37.8" fill="#f23645" font-size="15.6" textLength="59.9" lengthAdjust="spacingAndGlyphs">−0.01865</text>
<text x="504.2" y="37.8" fill="#f23645" font-size="15.6" textLength="56.2" lengthAdjust="spacingAndGlyphs">(−1.76%)</text>
<text x="23.3" y="58.8" fill="#131722" font-size="14.5" textLength="112" lengthAdjust="spacingAndGlyphs">MA (20, close, 0)</text>
<text x="23.3" y="79.4" fill="#131722" font-size="14.5" textLength="120.5" lengthAdjust="spacingAndGlyphs">MA (100, close, 0)</text>
<text x="23.3" y="100" fill="#131722" font-size="14.5" textLength="120.5" lengthAdjust="spacingAndGlyphs">MA (200, close, 0)</text>
<text x="23.0" y="362" fill="#131722" font-size="14.5" textLength="106" lengthAdjust="spacingAndGlyphs">Mom (10, close)</text>
<text x="139.0" y="362" fill="#2196f3" font-size="15.6" textLength="59.9" lengthAdjust="spacingAndGlyphs">−0.04127</text>
<text x="23.0" y="474.8" fill="#131722" font-size="14.5" textLength="50.8" lengthAdjust="spacingAndGlyphs">RSI (14)</text>
<text x="83.4" y="474.8" fill="#7e57c2" font-size="15.6" textLength="36.6" lengthAdjust="spacingAndGlyphs">41.09</text>
<g transform="translate(13.2,643.3) scale(0.672)" fill="#131722"><path d="M14 22H7V11H0V4h14v18zM28 22h-8l7.5-18h8L28 22z"/><circle cx="20" cy="8" r="4"/></g>
<text x="42" y="657.8" fill="#131722" font-size="15" textLength="87.8" lengthAdjust="spacingAndGlyphs">TradingView</text>
</svg></body></html>
